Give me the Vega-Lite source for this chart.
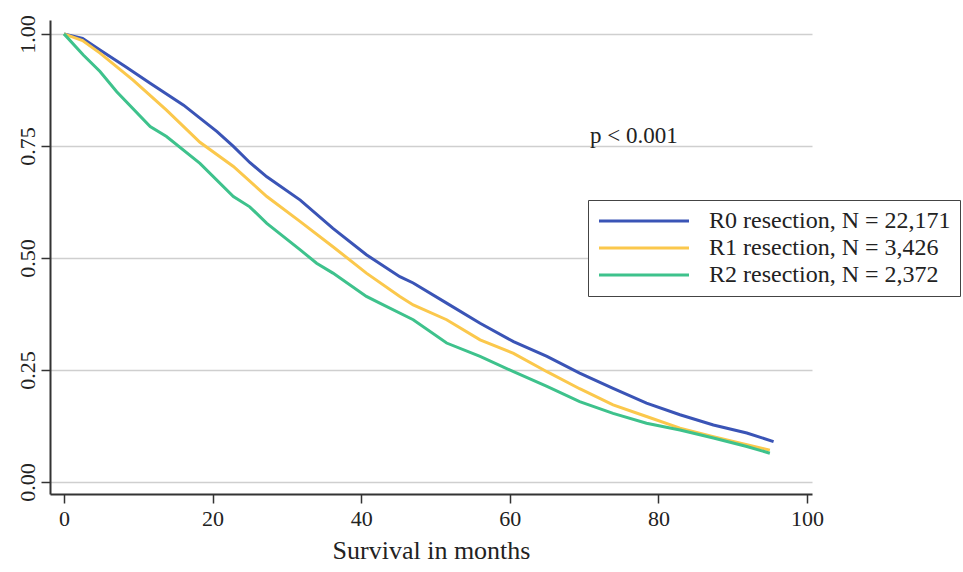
{
  "$schema": "https://vega.github.io/schema/vega-lite/v6.json",
  "width": 762,
  "height": 474,
  "autosize": {"type": "none"},
  "padding": {"left": 50, "top": 20, "right": 151, "bottom": 78},
  "background": "white",
  "config": {
    "view": {"stroke": null},
    "font": "Liberation Serif",
    "axis": {
      "labelFont": "Liberation Serif",
      "titleFont": "Liberation Serif",
      "labelColor": "#222",
      "titleColor": "#222",
      "domainColor": "#333",
      "domainWidth": 2,
      "tickColor": "#333",
      "tickWidth": 1.5,
      "tickSize": 9
    }
  },
  "datasets": {
    "km": [
      {"g": "R0 resection, N = 22,171", "m": 0, "s": 1.0},
      {"g": "R0 resection, N = 22,171", "m": 2.5, "s": 0.99},
      {"g": "R0 resection, N = 22,171", "m": 4.85, "s": 0.964},
      {"g": "R0 resection, N = 22,171", "m": 8.2, "s": 0.928},
      {"g": "R0 resection, N = 22,171", "m": 11.6, "s": 0.89},
      {"g": "R0 resection, N = 22,171", "m": 16.1, "s": 0.841},
      {"g": "R0 resection, N = 22,171", "m": 18.3, "s": 0.812},
      {"g": "R0 resection, N = 22,171", "m": 20.6, "s": 0.782},
      {"g": "R0 resection, N = 22,171", "m": 22.8, "s": 0.749},
      {"g": "R0 resection, N = 22,171", "m": 25.0, "s": 0.713},
      {"g": "R0 resection, N = 22,171", "m": 27.3, "s": 0.681},
      {"g": "R0 resection, N = 22,171", "m": 31.8, "s": 0.629},
      {"g": "R0 resection, N = 22,171", "m": 36.2, "s": 0.566},
      {"g": "R0 resection, N = 22,171", "m": 40.7, "s": 0.507},
      {"g": "R0 resection, N = 22,171", "m": 45.2, "s": 0.458},
      {"g": "R0 resection, N = 22,171", "m": 47.0, "s": 0.444},
      {"g": "R0 resection, N = 22,171", "m": 51.5, "s": 0.399},
      {"g": "R0 resection, N = 22,171", "m": 56.0, "s": 0.354},
      {"g": "R0 resection, N = 22,171", "m": 60.5, "s": 0.313},
      {"g": "R0 resection, N = 22,171", "m": 65.0, "s": 0.28},
      {"g": "R0 resection, N = 22,171", "m": 69.4, "s": 0.243},
      {"g": "R0 resection, N = 22,171", "m": 73.9, "s": 0.209},
      {"g": "R0 resection, N = 22,171", "m": 78.4, "s": 0.176},
      {"g": "R0 resection, N = 22,171", "m": 82.9, "s": 0.15},
      {"g": "R0 resection, N = 22,171", "m": 87.4, "s": 0.127},
      {"g": "R0 resection, N = 22,171", "m": 91.9, "s": 0.109},
      {"g": "R0 resection, N = 22,171", "m": 95.5, "s": 0.09},
      {"g": "R1 resection, N = 3,426", "m": 0, "s": 1.0},
      {"g": "R1 resection, N = 3,426", "m": 2.5, "s": 0.985},
      {"g": "R1 resection, N = 3,426", "m": 4.85, "s": 0.957},
      {"g": "R1 resection, N = 3,426", "m": 9.3, "s": 0.897},
      {"g": "R1 resection, N = 3,426", "m": 13.8, "s": 0.83},
      {"g": "R1 resection, N = 3,426", "m": 18.3, "s": 0.758},
      {"g": "R1 resection, N = 3,426", "m": 22.8, "s": 0.704},
      {"g": "R1 resection, N = 3,426", "m": 27.3, "s": 0.637},
      {"g": "R1 resection, N = 3,426", "m": 31.8, "s": 0.581},
      {"g": "R1 resection, N = 3,426", "m": 36.2, "s": 0.525},
      {"g": "R1 resection, N = 3,426", "m": 40.7, "s": 0.466},
      {"g": "R1 resection, N = 3,426", "m": 45.2, "s": 0.414},
      {"g": "R1 resection, N = 3,426", "m": 47.0, "s": 0.395},
      {"g": "R1 resection, N = 3,426", "m": 51.5, "s": 0.362},
      {"g": "R1 resection, N = 3,426", "m": 56.0, "s": 0.317},
      {"g": "R1 resection, N = 3,426", "m": 60.5, "s": 0.287},
      {"g": "R1 resection, N = 3,426", "m": 65.0, "s": 0.246},
      {"g": "R1 resection, N = 3,426", "m": 69.4, "s": 0.208},
      {"g": "R1 resection, N = 3,426", "m": 73.9, "s": 0.172},
      {"g": "R1 resection, N = 3,426", "m": 78.4, "s": 0.146},
      {"g": "R1 resection, N = 3,426", "m": 82.9, "s": 0.12},
      {"g": "R1 resection, N = 3,426", "m": 87.4, "s": 0.101},
      {"g": "R1 resection, N = 3,426", "m": 91.9, "s": 0.083},
      {"g": "R1 resection, N = 3,426", "m": 95.0, "s": 0.071},
      {"g": "R2 resection, N = 2,372", "m": 0, "s": 1.0},
      {"g": "R2 resection, N = 2,372", "m": 2.6, "s": 0.953},
      {"g": "R2 resection, N = 2,372", "m": 4.85, "s": 0.916},
      {"g": "R2 resection, N = 2,372", "m": 7.1, "s": 0.871},
      {"g": "R2 resection, N = 2,372", "m": 11.6, "s": 0.793},
      {"g": "R2 resection, N = 2,372", "m": 13.8, "s": 0.771},
      {"g": "R2 resection, N = 2,372", "m": 18.3, "s": 0.711},
      {"g": "R2 resection, N = 2,372", "m": 22.8, "s": 0.637},
      {"g": "R2 resection, N = 2,372", "m": 25.0, "s": 0.614},
      {"g": "R2 resection, N = 2,372", "m": 27.3, "s": 0.577},
      {"g": "R2 resection, N = 2,372", "m": 31.8, "s": 0.518},
      {"g": "R2 resection, N = 2,372", "m": 34.0, "s": 0.488},
      {"g": "R2 resection, N = 2,372", "m": 36.2, "s": 0.466},
      {"g": "R2 resection, N = 2,372", "m": 40.7, "s": 0.414},
      {"g": "R2 resection, N = 2,372", "m": 42.5, "s": 0.399},
      {"g": "R2 resection, N = 2,372", "m": 47.0, "s": 0.362},
      {"g": "R2 resection, N = 2,372", "m": 51.5, "s": 0.31},
      {"g": "R2 resection, N = 2,372", "m": 56.0, "s": 0.28},
      {"g": "R2 resection, N = 2,372", "m": 60.5, "s": 0.246},
      {"g": "R2 resection, N = 2,372", "m": 65.0, "s": 0.213},
      {"g": "R2 resection, N = 2,372", "m": 69.4, "s": 0.179},
      {"g": "R2 resection, N = 2,372", "m": 73.9, "s": 0.153},
      {"g": "R2 resection, N = 2,372", "m": 78.4, "s": 0.131},
      {"g": "R2 resection, N = 2,372", "m": 82.9, "s": 0.116},
      {"g": "R2 resection, N = 2,372", "m": 87.4, "s": 0.098},
      {"g": "R2 resection, N = 2,372", "m": 91.9, "s": 0.079},
      {"g": "R2 resection, N = 2,372", "m": 95.0, "s": 0.064}
    ]
  },
  "layer": [
    {
      "data": {"name": "km"},
      "mark": {"type": "line", "strokeWidth": 3, "interpolate": "linear"},
      "encoding": {
        "x": {
          "field": "m", "type": "quantitative",
          "scale": {"domain": [-1.88, 100.67], "nice": false, "zero": false},
          "axis": {
            "values": [0, 20, 40, 60, 80, 100],
            "title": "Survival in months",
            "titleFontSize": 26,
            "titleFontWeight": "normal",
            "titlePadding": 8,
            "labelFontSize": 22,
            "labelPadding": 5,
            "grid": false
          }
        },
        "y": {
          "field": "s", "type": "quantitative",
          "scale": {"domain": [-0.027, 1.031], "nice": false, "zero": false},
          "axis": {
            "values": [0, 0.25, 0.5, 0.75, 1],
            "format": ".2f",
            "title": null,
            "labelFontSize": 22,
            "labelAngle": -90,
            "labelAlign": "center",
            "labelBaseline": "alphabetic",
            "labelPadding": 7,
            "grid": true,
            "gridColor": "#cfcfcf",
            "gridWidth": 1.5
          }
        },
        "color": {
          "field": "g", "type": "nominal",
          "scale": {
            "domain": ["R0 resection, N = 22,171", "R1 resection, N = 3,426", "R2 resection, N = 2,372"],
            "range": ["#3a54b6", "#fbc84c", "#3ec28c"]
          },
          "legend": {
            "title": null,
            "orient": "none",
            "legendX": 538,
            "legendY": 180,
            "symbolType": "M-1,0H8",
            "symbolSize": 400,
            "symbolStrokeWidth": 3,
            "symbolFillColor": "transparent",
            "labelFont": "Liberation Serif",
            "labelFontSize": 24,
            "labelColor": "#222",
            "labelLimit": 0,
            "labelOffset": 88,
            "padding": 9,
            "rowPadding": 3,
            "strokeColor": "#444",
            "fillColor": "white"
          }
        }
      }
    },
    {
      "data": {"values": [{"label": "p < 0.001"}]},
      "mark": {"type": "text", "font": "Liberation Serif", "fontSize": 23, "color": "#222", "align": "center", "baseline": "alphabetic"},
      "encoding": {
        "x": {"datum": 76.7, "type": "quantitative"},
        "y": {"datum": 0.7567, "type": "quantitative"},
        "text": {"field": "label", "type": "nominal"}
      }
    }
  ]
}
